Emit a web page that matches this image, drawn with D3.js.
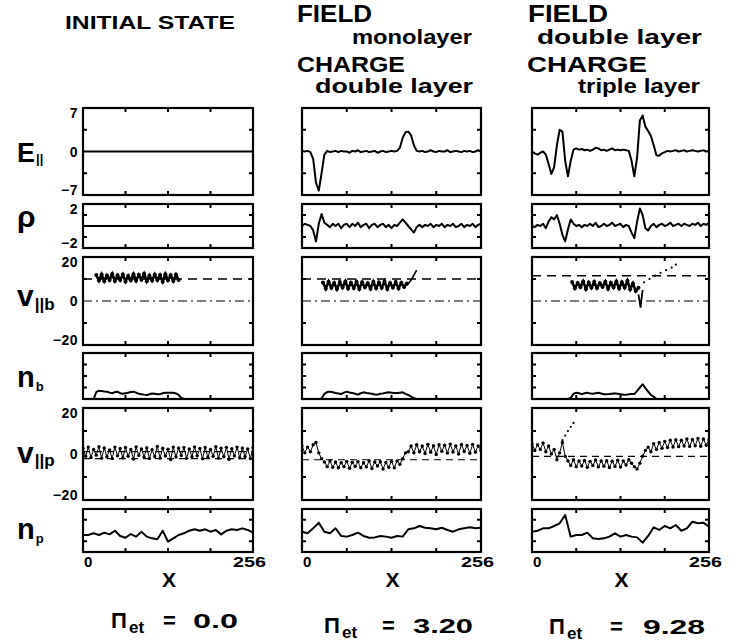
<!DOCTYPE html>
<html><head><meta charset="utf-8">
<script src="https://cdn.jsdelivr.net/npm/d3@7"></script>
<style>
body{margin:0;background:#fff}
svg{display:block}
text{font-family:"Liberation Sans",Arial,Helvetica,sans-serif;font-weight:bold;fill:#000}
</style>
</head><body>
<svg id="c" width="733" height="643"></svg>
<script>
// ---------------- DATA ----------------
const GRID4 = d3.range(0, 257, 4);   // 65 sample positions along x
const GRID8 = d3.range(0, 257, 8);   // 33 sample positions along x
const X_EDGES = [0, 256];

const colTitles = [
  ["INITIAL STATE"],
  ["FIELD", "monolayer", "CHARGE", "double layer"],
  ["FIELD", "double layer", "CHARGE", "triple layer"]
];
const piValues = ["0.0", "3.20", "9.28"];
const xTickLabels = ["0", "256"];
const rowNames = ["E", "rho", "vb", "nb", "vp", "np"];
const rowDomains = [[-7, 7], [-2, 2], [-20, 20], [0, 4], [-20, 20], [0, 4]];
const rowTickLabels = [["7", "0", "-7"], ["2", "", "-2"], ["20", "0", "-20"], [], ["20", "0", "-20"], []];
const rowFrameTicks = [[-3.5, 3.5], [-1, 1], [-10, 10], [1, 2, 3], [-10, 10], [1, 3]];
const frameXTicks = [64, 128, 192];

// E parallel
const E_col1 = [0, 0];
const E_col2 = [0.1,0.0,0.1,-0.1,-1.2,-5.0,-6.3,-3.5,-0.5,0.1,-0.1,0.0,0.1,-0.1,0.1,0.0,0.0,-0.2,0.1,0.0,0.2,-0.1,0.0,0.1,-0.1,0.0,0.1,-0.2,0.0,0.1,-0.1,0.0,0.1,0.0,0.1,0.6,2.2,3.1,3.2,2.6,1.0,0.1,0.0,0.1,-0.1,0.0,0.2,0.0,-0.1,0.1,0.0,0.0,0.2,-0.1,0.0,0.1,0.0,-0.1,0.1,0.0,0.1,-0.1,0.0,0.2,0.0];
const E_col3 = [0.0,-0.3,-0.5,-0.2,0.0,-0.5,-2.0,-3.6,-2.5,1.0,3.5,3.2,-1.5,-4.0,-1.5,0.3,0.5,0.3,0.4,0.2,0.3,0.1,0.3,0.6,0.5,0.2,0.3,0.1,0.3,0.5,0.2,0.3,0.2,0.3,0.2,0.1,-1.5,-4.0,-1.0,5.0,5.8,4.0,3.3,2.5,1.0,-0.6,-0.7,-0.3,-0.1,0.1,0.0,0.1,0.2,0.0,0.1,0.2,0.0,0.1,0.2,0.1,0.0,0.1,0.2,0.0,0.1];

// charge density rho
const rho_col1 = [0, 0];
const rho_col2 = [0.0,0.2,0.1,0.0,-0.4,-1.4,0.2,1.1,0.3,0.1,-0.1,0.2,0.0,0.2,-0.2,0.1,0.2,-0.1,0.2,0.0,0.3,-0.1,0.1,0.2,-0.2,0.1,0.2,-0.1,0.1,0.2,-0.1,0.1,-0.2,0.1,0.0,0.3,0.6,0.3,0.0,-0.3,-0.6,-0.1,0.1,-0.1,0.1,0.0,0.2,-0.1,0.1,0.0,0.2,-0.1,0.1,0.0,0.2,-0.1,0.0,0.2,-0.1,0.1,0.0,0.2,-0.1,0.1,0.2];
const rho_col3 = [0.0,-0.1,0.1,0.0,0.2,-0.2,0.4,0.8,0.6,1.0,0.2,-0.8,-1.4,-0.3,0.6,0.2,0.0,0.1,-0.1,0.1,0.0,0.2,0.0,0.3,-0.1,0.0,0.2,0.0,0.1,0.3,0.0,0.1,0.2,-0.1,0.1,0.0,-0.6,-1.1,0.4,1.6,1.0,-0.2,-0.4,0.0,0.2,-0.1,0.1,0.2,0.0,0.1,0.3,0.0,0.1,0.2,0.0,0.2,0.1,0.0,0.2,0.1,0.3,0.0,0.2,0.1,0.3];

// beam electron velocity (phase-space scatter, zig-zag track)
const vb_x1 = d3.range(20, 145, 4);
const vb_col1 = [11.8,9.3,12.1,9.0,11.6,9.6,12.3,9.1,11.7,9.5,12.0,8.9,11.5,9.4,12.2,9.2,11.9,9.7,12.4,9.0,11.6,9.3,12.1,9.5,11.8,8.8,12.2,9.4,11.7,9.1,12.0,9.6];
const vb_x2 = d3.range(30, 151, 4);
const vb_col2 = [8.4,5.6,8.8,6.0,8.2,5.4,8.6,6.1,8.9,5.7,8.3,5.9,8.7,5.5,8.5,6.2,8.1,5.6,8.8,5.8,8.4,6.0,8.9,5.5,8.2,6.1,8.6,5.7,8.3,6.4,8.0];
const vb_x3 = d3.range(58, 155, 4);
const vb_col3 = [8.6,5.8,8.2,6.3,8.9,5.5,8.4,6.0,8.7,5.9,8.1,6.4,8.8,5.6,8.3,6.2,8.9,5.7,8.5,6.1,9.2,5.3,8.0,4.5,6.0];
const vbTail_x2 = [150, 157, 164];
const vbTail2 = [7, 10, 14];
const vbTail_x3 = [154, 155, 156, 157, 158, 160];
const vbTail3 = [3, 1, -1, -3, 0, 5];
const vbTrack_x3 = [162, 170, 178, 186, 194, 202, 208];
const vbTrack3 = [8.5, 10, 11.5, 12.8, 14, 15.2, 16.5];
const vbRef = [10, 10, 11.5];

// beam density
const nb_col1 = [0,0,0,0,0,0.6,0.72,0.7,0.66,0.64,0.55,0.5,0.6,0.64,0.5,0.45,0.5,0.55,0.6,0.64,0.55,0.45,0.42,0.38,0.35,0.42,0.48,0.45,0.41,0.42,0.5,0.55,0.55,0.55,0.55,0.48,0.35,0.1,0,0,0,0,0,0,0,0,0,0,0,0,0,0,0,0,0,0,0,0,0,0,0,0,0,0,0];
const nb_col2 = [0,0,0,0,0,0,0,0.05,0.45,0.6,0.64,0.58,0.52,0.48,0.43,0.55,0.64,0.56,0.52,0.45,0.38,0.5,0.58,0.52,0.49,0.45,0.4,0.38,0.45,0.49,0.55,0.58,0.55,0.52,0.52,0.55,0.58,0.45,0.35,0.2,0.08,0,0,0,0,0,0,0,0,0,0,0,0,0,0,0,0,0,0,0,0,0,0,0,0];
const nb_col3 = [0,0,0,0,0,0,0,0,0,0,0,0,0,0,0.1,0.45,0.55,0.5,0.42,0.5,0.55,0.47,0.45,0.5,0.55,0.48,0.41,0.42,0.43,0.46,0.49,0.45,0.41,0.37,0.36,0.42,0.43,0.43,0.7,1.0,1.28,0.95,0.65,0.35,0.2,0,0,0,0,0,0,0,0,0,0,0,0,0,0,0,0,0,0,0,0];

// plasma electron velocity (scatter track)
const vp_col1 = [2.5,-1.0,3.0,-1.5,2.0,-0.5,3.2,-1.8,2.6,-1.2,1.8,-2.0,3.0,-0.8,2.4,-1.6,2.8,-1.0,2.0,-2.2,3.1,-0.6,2.2,-1.4,2.7,-2.0,1.9,-1.1,3.3,-1.7,2.5,-0.9,2.1,-2.4,3.0,-1.3,2.6,-0.7,2.9,-1.9,2.2,-1.2,3.1,-0.8,2.4,-2.1,2.8,-1.5,2.0,-1.0,3.2,-1.8,2.5,-1.2,2.9,-2.3,2.3,-0.9,3.0,-1.6,2.6,-1.1,2.2,-2.0,2.7];
const vp_col2 = [3.5,0.5,3.0,1.0,4.0,5.0,0.5,-2.0,-3.5,-5.5,-3.0,-5.8,-3.5,-6.0,-3.8,-5.5,-3.2,-6.2,-3.6,-5.4,-3.3,-6.0,-3.8,-5.6,-3.0,-6.3,-3.5,-5.2,-3.4,-6.5,-3.7,-5.8,-3.2,-6.0,-3.0,-4.5,-2.0,0.5,1.0,3.5,0.5,4.0,1.0,3.5,0.2,4.2,0.8,3.6,-0.2,4.0,1.2,3.8,0.4,4.3,0.9,3.5,0.0,4.1,1.1,3.7,0.3,4.2,0.8,3.5,1.5];
const vp_col3 = [4.5,1.5,4.0,2.0,4.8,1.0,3.5,0.0,2.0,-2.5,0.5,5.0,-1.0,-3.0,-5.0,-2.5,-5.5,-3.0,-5.2,-2.8,-5.8,-3.2,-5.0,-2.6,-5.6,-3.0,-5.3,-2.9,-5.9,-3.1,-5.4,-2.7,-5.7,-3.0,-4.8,-2.5,-4.0,-5.5,-6.5,-4.0,-1.0,1.5,3.0,1.0,4.5,2.0,5.0,2.5,5.5,2.8,6.0,3.0,6.2,3.2,6.0,3.5,6.5,3.3,6.3,3.6,6.8,3.4,6.5,3.8,6.2];
const vpTrack_x3 = [44, 48, 52, 56, 60];
const vpTrack3 = [6, 8, 10, 11.8, 13.5];
const vpRef = [[1, -2], [-2.5], [-1]];

// plasma density
const np_col1 = [1.58,1.58,1.74,1.58,1.80,1.64,1.98,1.49,1.33,1.67,1.43,1.89,1.43,1.27,1.18,1.98,0.96,1.27,1.58,1.74,1.98,2.11,1.98,2.11,1.89,2.05,1.64,1.98,2.11,2.05,2.2,2.05,1.80];
const np_col2 = [1.89,1.74,2.2,2.73,1.89,1.74,2.2,1.49,1.43,1.58,1.8,1.49,1.33,1.36,1.49,1.43,1.33,1.49,1.43,2.11,2.2,2.42,2.26,2.2,2.11,2.26,2.05,1.89,2.11,2.2,2.3,2.2,2.26];
const np_col3 = [1.89,1.98,2.2,2.2,2.42,2.67,3.44,1.43,1.58,1.58,1.8,1.27,1.21,1.27,1.43,1.74,1.43,1.58,1.43,1.36,0.87,1.49,2.3,2.05,2.42,2.2,2.51,1.98,2.2,2.82,2.67,2.73,2.36];

// ---------------- LAYOUT ----------------
const svg = d3.select("#c");
const cols = [{x0: 83, x1: 253}, {x0: 302, x1: 481}, {x0: 532, x1: 709}];
const rows = [[108, 195], [204, 248], [257, 345], [353, 399], [408, 500], [509, 552]];

const lineData = {
  E:   [[X_EDGES, E_col1], [GRID4, E_col2], [GRID4, E_col3]],
  rho: [[X_EDGES, rho_col1], [GRID4, rho_col2], [GRID4, rho_col3]],
  nb:  [[GRID4, nb_col1], [GRID4, nb_col2], [GRID4, nb_col3]],
  np:  [[GRID8, np_col1], [GRID8, np_col2], [GRID8, np_col3]]
};
const vbData = [[vb_x1, vb_col1], [vb_x2, vb_col2], [vb_x3, vb_col3]];
const vpData = [vp_col1, vp_col2, vp_col3];

let clipId = 0;
cols.forEach((c, ci) => {
  const x = d3.scaleLinear().domain([0, 256]).range([c.x0, c.x1]);
  rows.forEach((r, ri) => {
    const name = rowNames[ri];
    const y = d3.scaleLinear().domain(rowDomains[ri]).range([r[1], r[0]]);
    const g = svg.append("g");
    const id = "clip" + (clipId++);
    g.append("clipPath").attr("id", id).append("rect")
      .attr("x", c.x0).attr("y", r[0]).attr("width", c.x1 - c.x0).attr("height", r[1] - r[0]);
    const pg = g.append("g").attr("clip-path", `url(#${id})`);
    const line = (xs, ys) => d3.line().x((d, i) => x(xs[i])).y(d => y(d))(ys);

    if (lineData[name]) {
      const [xs, ys] = lineData[name][ci];
      pg.append("path").attr("d", line(xs, ys)).attr("fill", "none")
        .attr("stroke", "#000").attr("stroke-width", 2).attr("stroke-linejoin", "round");
    }
    if (name === "vb") {
      pg.append("line").attr("x1", x(0)).attr("x2", x(256)).attr("y1", y(vbRef[ci])).attr("y2", y(vbRef[ci]))
        .attr("stroke", "#000").attr("stroke-width", 1.4).attr("stroke-dasharray", "9,6");
      pg.append("line").attr("x1", x(0)).attr("x2", x(256)).attr("y1", y(0)).attr("y2", y(0))
        .attr("stroke", "#000").attr("stroke-width", 1.1).attr("stroke-dasharray", "9,4,2,4");
      const [xs, ys] = vbData[ci];
      pg.append("path").attr("d", line(xs, ys)).attr("fill", "none").attr("stroke", "#000").attr("stroke-width", 2.6);
      pg.selectAll(null).data(ys).enter().append("circle")
        .attr("cx", (d, i) => x(xs[i])).attr("cy", d => y(d)).attr("r", 2).attr("fill", "#000");
      if (ci === 1) {
        pg.append("path").attr("d", line(vbTail_x2, vbTail2)).attr("fill", "none").attr("stroke", "#000").attr("stroke-width", 1.6);
      }
      if (ci === 2) {
        pg.append("path").attr("d", line(vbTail_x3, vbTail3)).attr("fill", "none").attr("stroke", "#000").attr("stroke-width", 1.8);
        pg.selectAll(null).data(vbTrack3).enter().append("circle")
          .attr("cx", (d, i) => x(vbTrack_x3[i])).attr("cy", d => y(d)).attr("r", 1.1).attr("fill", "#000");
      }
    }
    if (name === "vp") {
      vpRef[ci].forEach(v => {
        pg.append("line").attr("x1", x(0)).attr("x2", x(256)).attr("y1", y(v)).attr("y2", y(v))
          .attr("stroke", "#000").attr("stroke-width", 1.2).attr("stroke-dasharray", "7,5");
      });
      const ys = vpData[ci];
      pg.append("path").attr("d", line(GRID4, ys)).attr("fill", "none").attr("stroke", "#000").attr("stroke-width", 1);
      pg.selectAll(null).data(ys).enter().append("circle")
        .attr("cx", (d, i) => x(GRID4[i])).attr("cy", d => y(d)).attr("r", 1.7).attr("fill", "#000");
      if (ci === 2) {
        pg.selectAll(null).data(vpTrack3).enter().append("circle")
          .attr("cx", (d, i) => x(vpTrack_x3[i])).attr("cy", d => y(d)).attr("r", 1.1).attr("fill", "#000");
      }
    }

    // frame and inward ticks
    g.append("rect").attr("x", c.x0).attr("y", r[0]).attr("width", c.x1 - c.x0).attr("height", r[1] - r[0])
      .attr("fill", "none").attr("stroke", "#000").attr("stroke-width", 2.2);
    const tk = g.append("g").attr("stroke", "#000").attr("stroke-width", 2);
    frameXTicks.forEach(t => {
      tk.append("line").attr("x1", x(t)).attr("x2", x(t)).attr("y1", r[0]).attr("y2", r[0] + 4);
      tk.append("line").attr("x1", x(t)).attr("x2", x(t)).attr("y1", r[1]).attr("y2", r[1] - 4);
    });
    rowFrameTicks[ri].forEach(t => {
      tk.append("line").attr("x1", c.x0).attr("x2", c.x0 + 4).attr("y1", y(t)).attr("y2", y(t));
      tk.append("line").attr("x1", c.x1).attr("x2", c.x1 - 4).attr("y1", y(t)).attr("y2", y(t));
    });

    // y tick labels (first column only)
    if (ci === 0) {
      const labs = rowTickLabels[ri];
      if (labs.length) {
        const pos = [r[0] + 10, y(0) + 5, r[1]];
        labs.forEach((l, k) => {
          if (!l) return;
          g.append("text").attr("x", 78).attr("y", pos[k]).attr("text-anchor", "end")
            .attr("font-size", 14).attr("letter-spacing", 0.5).text(l.replace("-", "\u2212"));
        });
      }
    }
  });

  // x tick labels and axis title
  const bottom = rows[5][1];
  svg.append("text").attr("x", c.x0 + 1).attr("y", bottom + 15).attr("font-size", 15).text(xTickLabels[0]);
  svg.append("text").attr("x", c.x1 + 13).attr("y", bottom + 15).attr("text-anchor", "end")
    .attr("font-size", 15).attr("textLength", 33).attr("lengthAdjust", "spacingAndGlyphs").text(xTickLabels[1]);
  svg.append("text").attr("x", (c.x0 + c.x1) / 2 + 1).attr("y", bottom + 35).attr("text-anchor", "middle")
    .attr("font-size", 21).text("X");
});

// Column titles
const T = (x, y, size, len, s) => svg.append("text").attr("x", x).attr("y", y).attr("font-size", size)
  .attr("textLength", len).attr("lengthAdjust", "spacingAndGlyphs").text(s);
T(65, 29, 18, 170, colTitles[0][0]);
T(297, 22, 23, 75, colTitles[1][0]);
T(352, 44, 20, 120, colTitles[1][1]);
T(297, 72, 22, 108, colTitles[1][2]);
T(315, 93, 20, 158, colTitles[1][3]);
T(528, 22, 23, 80, colTitles[2][0]);
T(537, 44, 20, 165, colTitles[2][1]);
T(527, 72, 22, 120, colTitles[2][2]);
T(578, 93, 20, 122, colTitles[2][3]);

// Row labels
const rowLabels = [
  {main: "E", sub: "||", size: 27, subSize: 13, y: 162, dy: 1},
  {main: "\u03C1", sub: "", size: 30, subSize: 13, y: 227, dy: 0},
  {main: "v", sub: "||b", size: 30, subSize: 17, y: 306, dy: 4},
  {main: "n", sub: "b", size: 29, subSize: 13, y: 387, dy: 4},
  {main: "v", sub: "||p", size: 30, subSize: 17, y: 463, dy: 3},
  {main: "n", sub: "p", size: 29, subSize: 13, y: 539, dy: 4}
];
rowLabels.forEach(l => {
  const t = svg.append("text").attr("x", 17).attr("y", l.y);
  t.append("tspan").attr("font-size", l.size).text(l.main);
  if (l.sub) t.append("tspan").attr("font-size", l.subSize).attr("dx", 1).attr("dy", l.dy).text(l.sub);
});

// Pi_et labels
const piPos = [
  {x: 111, y: 628, eq: 163, val: 193, valLen: 45},
  {x: 324, y: 633, eq: 382, val: 413, valLen: 60},
  {x: 549, y: 634, eq: 610, val: 643, valLen: 62}
];
piPos.forEach((p, i) => {
  svg.append("text").attr("x", p.x).attr("y", p.y).attr("font-size", 22).text("\u03A0");
  svg.append("text").attr("x", p.x + 18).attr("y", p.y + 5).attr("font-size", 17).text("et");
  svg.append("text").attr("x", p.eq).attr("y", p.y).attr("font-size", 22).text("=");
  svg.append("text").attr("x", p.val).attr("y", p.y).attr("font-size", 20)
    .attr("textLength", p.valLen).attr("lengthAdjust", "spacingAndGlyphs").text(piValues[i]);
});
</script>
</body></html>
